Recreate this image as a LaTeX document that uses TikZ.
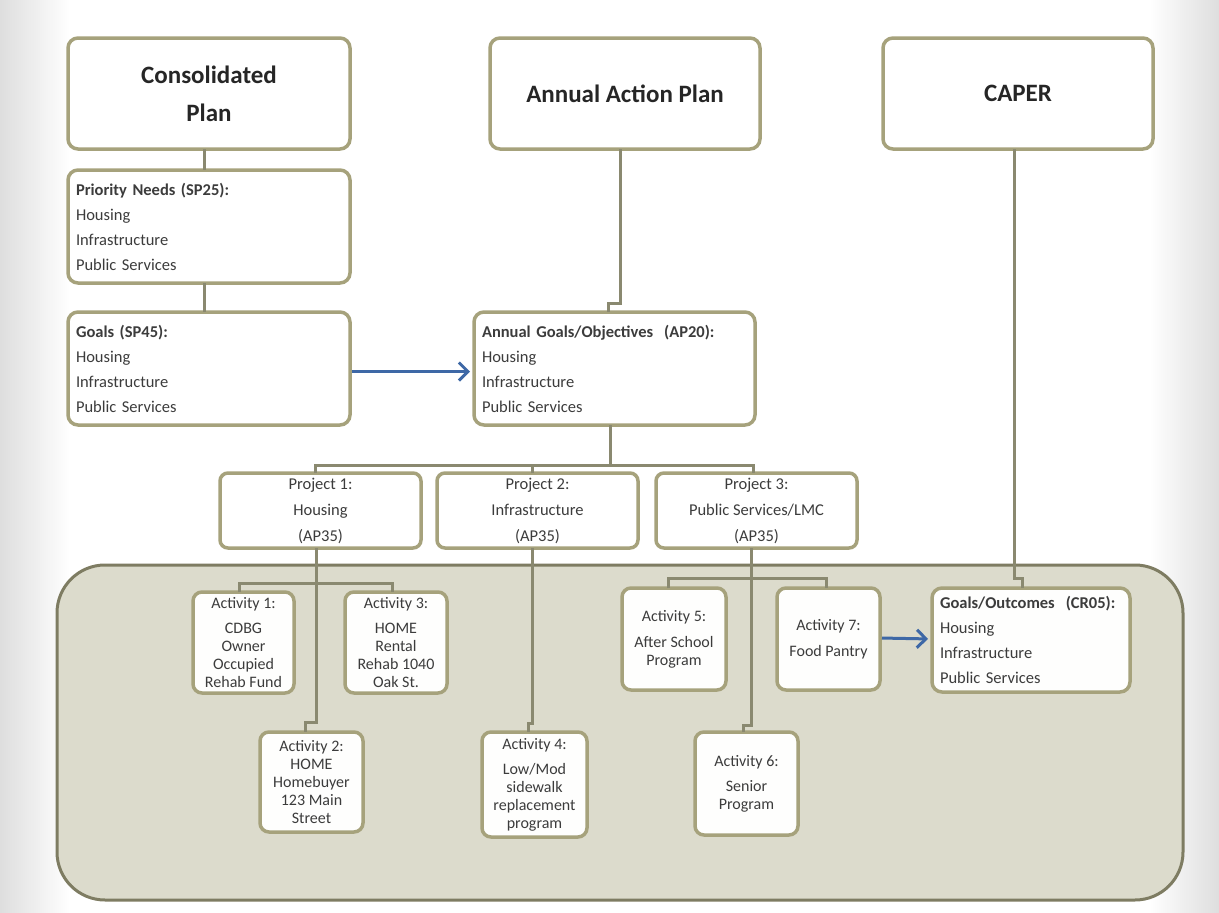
\documentclass[tikz,border=0pt]{standalone}
\usepackage{fontspec}
\setmainfont{Carlito}
\usetikzlibrary{arrows.meta}
\usetikzlibrary{positioning}

\definecolor{boxline}{RGB}{166,162,124}
\definecolor{wirecol}{RGB}{138,137,112}
\definecolor{panelfill}{RGB}{220,219,204}
\definecolor{panelline}{RGB}{126,124,98}
\definecolor{flowblue}{RGB}{62,104,166}
\definecolor{ink}{RGB}{60,60,60}

\begin{document}
\begin{tikzpicture}[x=1pt, y=-1pt,
    every node/.style={text=ink, outer sep=0pt},
    plan/.style={draw=boxline, line width=3.5pt, rounded corners=10pt, fill=white,
        minimum height=111pt, align=center, text=black!85,
        font={\fontsize{25}{38}\selectfont\bfseries}},
    list/.style={draw=boxline, line width=3.5pt, rounded corners=10pt, fill=white,
        minimum height=113pt, text width=266pt, inner xsep=8pt, align=left,
        font={\fontsize{16.5}{25}\selectfont}},
    project/.style={draw=boxline, line width=3.5pt, rounded corners=8pt, fill=white,
        minimum width=201pt, minimum height=75pt, align=center,
        font={\fontsize{16.5}{26}\selectfont}},
    activity/.style={draw=boxline, line width=3.5pt, rounded corners=9pt,
        fill=white!97!panelfill, minimum height=101pt, inner sep=2pt, align=center,
        font={\fontsize{16}{18}\selectfont}},
    panel/.style={draw=panelline, fill=panelfill, line width=3pt, rounded corners=48pt,
        minimum width=1126pt, minimum height=335pt},
    wire/.style={draw=wirecol, line width=3pt},
    flow/.style={draw=flowblue, line width=3pt, shorten <=2pt, shorten >=4pt,
        -{Straight Barb[length=9pt,width=18pt]}}
]
    \useasboundingbox (0,0) rectangle (1219,913);
    \fill [white] (0,0) rectangle (1219,913);
    \shade [left color=black!13, right color=white] (0,0) rectangle (70,913);
    \shade [left color=white, right color=black!13] (1149,0) rectangle (1219,913);

    \node [panel] (panel) at (620,732.5) {};

    \node [plan, minimum width=282pt] (con) at (209,93.5) {Consolidated\\Plan};
    \node [plan, minimum width=270pt] (aap) at (625,93.5) {Annual Action Plan};
    \node [plan, minimum width=270pt] (caper) at (1018,93.5) {CAPER};

    \node [list] (needs) [below=21pt of con]
        {\textbf{Priority Needs (SP25):}\\Housing\\Infrastructure\\Public Services};
    \node [list] (goals) [below=29pt of needs]
        {\textbf{Goals (SP45):}\\Housing\\Infrastructure\\Public Services};
    \node [list, text width=265pt] (annual) at (614.5,368.5)
        {\textbf{Annual Goals/Objectives\ \ (AP20):}\\Housing\\Infrastructure\\Public Services};

    \node [project] (proj1) at (320.5,510.5) {Project 1:\\Housing\\(AP35)};
    \node [project] (proj2) [right=16pt of proj1] {Project 2:\\Infrastructure\\(AP35)};
    \node [project] (proj3) [right=18pt of proj2] {Project 3:\\Public Services/LMC\\(AP35)};

    \node [activity, minimum width=101pt] (act1) at (243.5,642.5)
        {Activity 1:\\[7pt]CDBG\\Owner\\Occupied\\Rehab Fund};
    \node [activity, minimum width=102pt] (act3) at (396,642.5)
        {Activity 3:\\[7pt]HOME\\Rental\\Rehab 1040\\Oak St.};
    \node [activity, minimum width=103pt, minimum height=100pt] (act2) at (311.5,782)
        {Activity 2:\\HOME\\Homebuyer\\123 Main\\Street};
    \node [activity, minimum width=105pt, minimum height=105pt] (act4) at (534.5,784.5)
        {Activity 4:\\[7pt]Low/Mod\\sidewalk\\replacement\\program};
    \node [activity, minimum width=104pt, minimum height=102pt] (act5) at (674,639)
        {Activity 5:\\[8pt]After School\\Program};
    \node [activity, minimum width=103pt, minimum height=102pt] (act7) at (828.5,639)
        {Activity 7:\\[8pt]Food Pantry};
    \node [activity, minimum width=103pt, minimum height=103pt] (act6) at (746.5,783.5)
        {Activity 6:\\[7pt]Senior\\Program};

    \node [list, text width=182pt, minimum height=104pt, fill=white!97!panelfill] (outcome) at (1031,640)
        {\textbf{Goals/Outcomes\ \ (CR05):}\\Housing\\Infrastructure\\Public Services};

    \draw [wire] ([xshift=-5pt]con.south) -- ([xshift=-5pt]needs.north);
    \draw [wire] ([xshift=-5pt]needs.south) -- ([xshift=-5pt]goals.north);
    \draw [wire] ([xshift=-5pt]aap.south) -- ++(0,154) -| ([xshift=-6.5pt]annual.north);
    \draw [wire] ([xshift=-4.5pt]annual.south) -- ++(0,40) coordinate (hub);
    \draw [wire] ([xshift=-5.5pt]proj1.north) |- (hub) -| ([xshift=-3.5pt]proj3.north);
    \draw [wire] ([xshift=-5pt]proj2.north) -- ++(0,-8);

    \draw [wire] ([xshift=-4.5pt]proj1.south) -- ++(0,174) -| ([xshift=-6.5pt]act2.north);
    \draw [wire] ([xshift=-4pt]act1.north) -- ++(0,-9) -| ([xshift=-4pt]act3.north);
    \draw [wire] ([xshift=-5pt]proj2.south) -- ++(0,175) -| ([xshift=-6.5pt]act4.north);
    \draw [wire] ([xshift=-5.5pt]proj3.south) -- ++(0,177) -| ([xshift=-3.5pt]act6.north);
    \draw [wire] ([xshift=-6pt]act5.north) -- ++(0,-10) -| ([xshift=-2.5pt]act7.north);
    \draw [wire] ([xshift=-4pt]caper.south) -- ++(0,429) -| ([xshift=-9pt]outcome.north);

    \draw [flow] ([yshift=-3pt]goals.east) -- ([yshift=-3pt]annual.west);
    \draw [flow] ([yshift=1pt]act7.east) -- ([yshift=1pt]outcome.west);
\end{tikzpicture}
\end{document}
